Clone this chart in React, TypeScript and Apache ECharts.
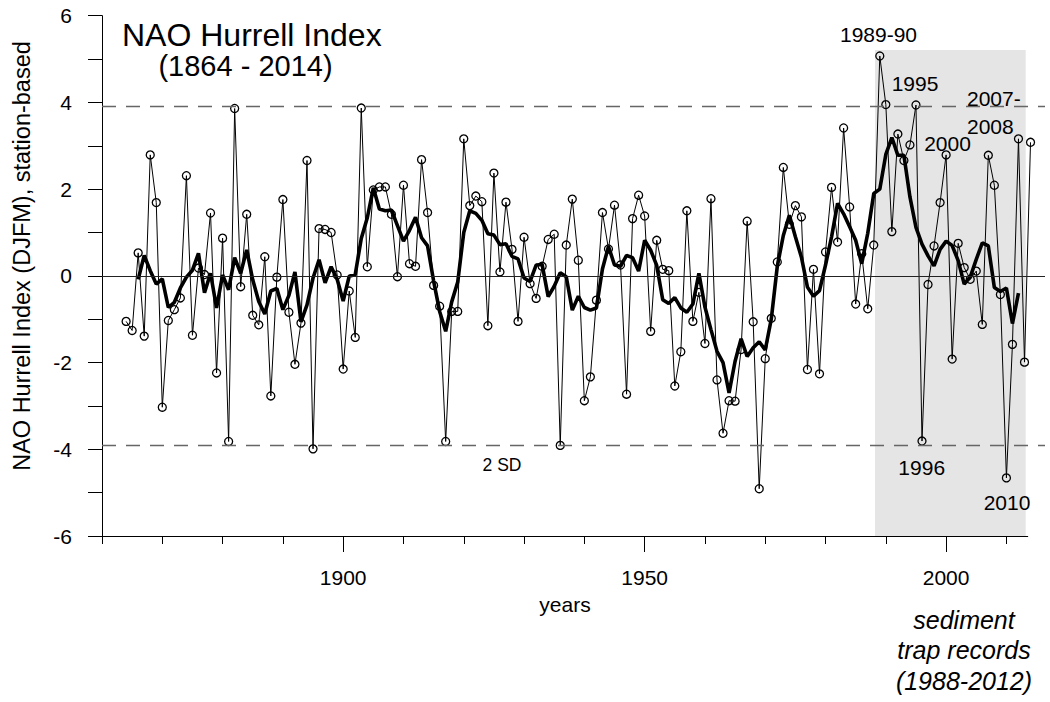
import React, { useEffect, useRef } from "react";
import * as echarts from "echarts";

const FONT = "'Liberation Sans', Arial, Helvetica, sans-serif";

// Winter (DJFM) station-based NAO index after Hurrell, one value per year
const firstYear = 1864;
const naoIndex = [
  -1.05, -1.26, 0.53, -1.39, 2.79, 1.69, -3.03, -1.03, -0.78, -0.51, // 1864-1873
  2.31, -1.37, 0.18, 0.03, 1.45, -2.24, 0.87, -3.82, 3.86, -0.25, // 1874-1883
  1.42, -0.91, -1.13, 0.44, -2.77, -0.03, 1.76, -0.84, -2.04, -1.09, // 1884-1893
  2.66, -3.99, 1.09, 1.07, 1.0, 0.02, -2.15, -0.35, -1.42, 3.87, // 1894-1903
  0.21, 1.98, 2.05, 2.05, 1.42, -0.02, 2.09, 0.28, 0.22, 2.68, // 1904-1913
  1.46, -0.22, -0.7, -3.82, -0.82, -0.82, 3.16, 1.62, 1.84, 1.71, // 1914-1923
  -1.15, 2.37, 0.09, 1.7, 0.61, -1.05, 0.89, -0.18, -0.52, 0.22, // 1924-1933
  0.84, 0.96, -3.91, 0.71, 1.77, 0.36, -2.88, -2.33, -0.56, 1.46, // 1934-1943
  0.62, 1.63, 0.25, -2.73, 1.32, 1.86, 1.38, -1.28, 0.82, 0.15, // 1944-1953
  0.12, -2.54, -1.75, 1.5, -1.05, -0.38, -1.56, 1.78, -2.4, -3.63, // 1954-1963
  -2.88, -2.89, -1.7, 1.26, -1.06, -4.91, -1.91, -0.98, 0.32, 2.5, // 1964-1973
  1.19, 1.62, 1.36, -2.16, 0.15, -2.26, 0.55, 2.04, 0.78, 3.41, // 1974-1983
  1.59, -0.65, 0.51, -0.76, 0.71, 5.07, 3.95, 1.02, 3.27, 2.66, // 1984-1993
  3.02, 3.94, -3.81, -0.2, 0.69, 1.69, 2.79, -1.92, 0.75, 0.19, // 1994-2003
  -0.08, 0.11, -1.12, 2.78, 2.09, -0.43, -4.66, -1.58, 3.16, -1.99, // 2004-2013
  3.08, // 2014
];

// 5-year running mean (centred), 1866-2012
const smoothFirstYear = 1866;
const runningMean5 = [
  -0.08, 0.47, 0.12, -0.19, -0.07, -0.73, -0.61, -0.28, -0.03, 0.13, // 1866-1875
  0.52, -0.39, 0.06, -0.74, 0.02, -0.32, 0.42, 0.06, 0.6, -0.09, // 1876-1885
  -0.59, -0.88, -0.35, -0.29, -0.78, -0.45, 0.09, -1.06, -0.67, -0.05, // 1886-1895
  0.37, -0.16, 0.21, -0.08, -0.58, -0.01, 0.03, 0.86, 1.34, 2.03, // 1896-1905
  1.54, 1.5, 1.52, 1.16, 0.8, 1.05, 1.35, 0.88, 0.69, -0.12, // 1906-1915
  -0.82, -1.28, -0.6, -0.14, 1.0, 1.5, 1.44, 1.28, 0.97, 0.94, // 1916-1925
  0.72, 0.74, 0.45, 0.39, -0.05, -0.13, 0.25, 0.26, -0.48, -0.24, // 1926-1935
  0.07, -0.02, -0.79, -0.47, -0.73, -0.79, -0.74, 0.16, 0.68, 0.25, // 1936-1945
  0.22, 0.47, 0.42, 0.11, 0.82, 0.59, 0.24, -0.55, -0.64, -0.5, // 1946-1955
  -0.74, -0.84, -0.65, 0.06, -0.72, -1.24, -1.74, -2.0, -2.7, -1.97, // 1956-1965
  -1.45, -1.86, -1.66, -1.52, -1.71, -1.0, 0.22, 0.93, 1.4, 0.9, // 1966-1975
  0.43, -0.26, -0.47, -0.34, 0.25, 0.9, 1.67, 1.43, 1.13, 0.82, // 1976-1985
  0.28, 0.98, 1.9, 2.0, 2.8, 3.19, 2.78, 2.78, 1.82, 1.12, // 1986-1995
  0.73, 0.46, 0.23, 0.61, 0.8, 0.7, 0.35, -0.19, -0.03, 0.38, // 1996-2005
  0.76, 0.69, -0.27, -0.36, -0.28, -1.1, -0.4, // 2006-2012
];

// Axis ticks
const minorTickYears = [1860, 1870, 1880, 1890, 1900, 1910, 1920, 1930, 1940, 1950, 1960, 1970, 1980, 1990, 2000, 2010];
const majorTickYears = [1900, 1950, 2000];
const yLabelValues = [-6, -4, -2, 0, 2, 4, 6];

// +/- 2 standard deviations
const twoSd = 3.91;
// Period covered by the sediment trap records (shaded)
const trapPeriod = [1988.2, 2013.2];
const trapBandTop = 5.21;

const X_MIN = 1860;
const X_MAX = 2016.4;
const X_LINE_END = 2013.6;

export default function App() {
  const ref = useRef<HTMLDivElement>(null);

  useEffect(() => {
    if (!ref.current) return;
    const chart = echarts.init(ref.current, undefined, { renderer: "svg" });

    const annual = naoIndex.map((v, i) => [firstYear + i, v]);
    const smooth = runningMean5.map((v, i) => [smoothFirstYear + i, v]);

    const txt = (
      text: string,
      x: number,
      y: number,
      fontSize: number,
      align: string = "center",
      extra: Record<string, unknown> = {}
    ) => ({
      type: "text",
      x,
      y,
      z: 100,
      silent: true,
      style: {
        text,
        fontSize,
        fontFamily: FONT,
        fill: "#000",
        align,
        verticalAlign: "middle",
        ...extra,
      },
    });

    const option: any = {
      animation: false,
      backgroundColor: "#fff",
      textStyle: { fontFamily: FONT },
      grid: { left: 102, right: 5, top: 15.7, bottom: 166, containLabel: false },
      xAxis: [
        {
          type: "value",
          min: X_MIN,
          max: X_MAX,
          position: "bottom",
          axisLine: { show: false, onZero: false },
          splitLine: { show: false },
          axisTick: { show: true, customValues: minorTickYears, length: 8, lineStyle: { color: "#000", width: 1 } },
          axisLabel: { show: false },
        },
        {
          type: "value",
          min: X_MIN,
          max: X_MAX,
          position: "bottom",
          axisLine: { show: false, onZero: false },
          splitLine: { show: false },
          axisTick: { show: true, customValues: majorTickYears, length: 16, lineStyle: { color: "#000", width: 1 } },
          axisLabel: {
            show: true,
            customValues: majorTickYears,
            margin: 31,
            fontSize: 21,
            color: "#000",
            fontFamily: FONT,
            formatter: (v: number) => String(v),
          },
        },
      ],
      yAxis: {
        type: "value",
        min: -6,
        max: 6,
        interval: 1,
        position: "left",
        axisLine: { show: true, onZero: false, lineStyle: { color: "#000", width: 1 } },
        axisTick: { show: true, length: 14, lineStyle: { color: "#000", width: 1 } },
        axisLabel: {
          margin: 30,
          fontSize: 21,
          color: "#000",
          fontFamily: FONT,
          formatter: (v: number) => (yLabelValues.indexOf(v) >= 0 ? String(v) : ""),
        },
        splitLine: { show: false },
      },
      series: [
        {
          name: "annual",
          type: "line",
          xAxisIndex: 0,
          data: annual,
          z: 2,
          clip: false,
          symbol: "circle",
          symbolSize: 8,
          showSymbol: true,
          lineStyle: { color: "#000", width: 1 },
          itemStyle: { color: "rgba(0,0,0,0)", borderColor: "#000", borderWidth: 1.3 },
          emphasis: { disabled: true },
          silent: true,
          markArea: {
            silent: true,
            itemStyle: { color: "#e5e5e5" },
            data: [[{ coord: [trapPeriod[0], -6] }, { coord: [trapPeriod[1], trapBandTop] }]],
          },
          markLine: {
            silent: true,
            symbol: ["none", "none"],
            label: { show: false },
            emphasis: { disabled: true },
            data: [
              { yAxis: 0, lineStyle: { color: "#222", width: 1, type: "solid" } },
              { yAxis: twoSd, lineStyle: { color: "#666", width: 1.3, type: [14, 10] } },
              { yAxis: -twoSd, lineStyle: { color: "#666", width: 1.3, type: [14, 10] } },
              [
                { coord: [X_MIN, -6], lineStyle: { color: "#000", width: 1, type: "solid" } },
                { coord: [X_LINE_END, -6] },
              ],
            ],
          },
        },
        {
          name: "5-year running mean",
          type: "line",
          xAxisIndex: 0,
          data: smooth,
          z: 3,
          symbol: "none",
          lineStyle: { color: "#000", width: 3.6 },
          emphasis: { disabled: true },
          silent: true,
        },
      ],
      graphic: [
        txt("NAO Hurrell Index", 122, 35, 32, "left", { lineHeight: 28 }),
        txt("(1864 - 2014)", 245.5, 66, 29, "center", { lineHeight: 26 }),
        {
          type: "text",
          x: 22,
          y: 256,
          z: 100,
          rotation: Math.PI / 2,
          silent: true,
          style: {
            text: "NAO Hurrell Index (DJFM), station-based",
            fontSize: 23.5,
            fontFamily: FONT,
            fill: "#000",
            align: "center",
            verticalAlign: "middle",
          },
        },
        txt("years", 565, 604, 21),
        txt("1989-90", 878.5, 34, 21),
        txt("1995", 915, 83.5, 21),
        txt("2007-\n2008", 967, 112.5, 21, "left", { lineHeight: 28.5 }),
        txt("2000", 947.5, 143, 21),
        txt("2 SD", 502, 464.5, 17.5),
        txt("1996", 921.7, 467, 21),
        txt("2010", 1007, 502, 21),
        txt("sediment\ntrap records\n(1988-2012)", 964, 650, 25, "center", {
          fontStyle: "italic",
          lineHeight: 30.5,
        }),
      ],
    };

    chart.setOption(option);
    return () => chart.dispose();
  }, []);

  return (
    <div
      ref={ref}
      style={{ position: "fixed", left: 0, top: 0, width: 1050, height: 702, background: "#fff" }}
    />
  );
}
